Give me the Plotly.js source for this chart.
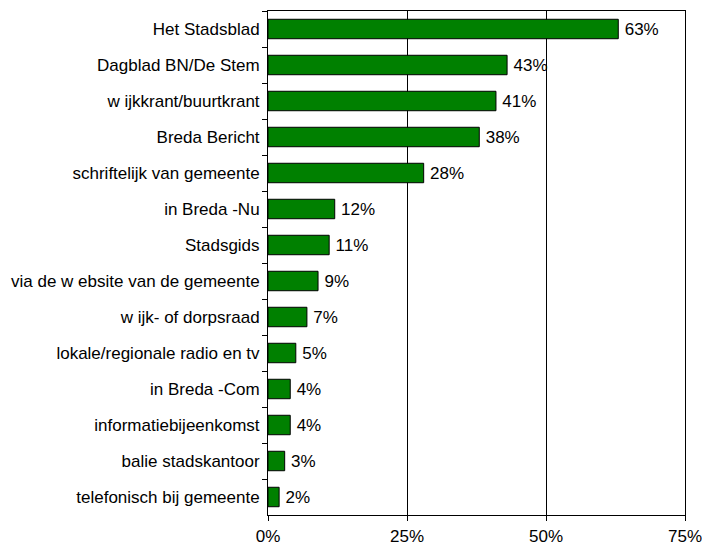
<!DOCTYPE html>
<html>
<head>
<meta charset="utf-8">
<script src="https://cdn.plot.ly/plotly-3.0.1.min.js"></script>
<style>html,body{margin:0;padding:0;background:#fff;}#chart{width:702px;height:546px;}</style>
</head>
<body>
<div id="chart"></div>
<script>
const categories = [
  "Het Stadsblad",
  "Dagblad BN/De Stem",
  "w ijkkrant/buurtkrant",
  "Breda Bericht",
  "schriftelijk van gemeente",
  "in Breda -Nu",
  "Stadsgids",
  "via de w ebsite van de gemeente",
  "w ijk- of dorpsraad",
  "lokale/regionale radio en tv",
  "in Breda -Com",
  "informatiebijeenkomst",
  "balie stadskantoor",
  "telefonisch bij gemeente"
];
const values = [63, 43, 41, 38, 28, 12, 11, 9, 7, 5, 4, 4, 3, 2];
const tickVals = [0, 25, 50, 75];
const tickText = ["0%", "25%", "50%", "75%"];

const trace = {
  type: "bar",
  orientation: "h",
  x: values,
  y: categories,
  text: values.map(v => "\u2009" + v + "%"),
  textposition: "outside",
  cliponaxis: false,
  textfont: {family: "Liberation Sans, Arial, sans-serif", size: 17, color: "#000"},
  marker: {color: "#008000", line: {color: "#000", width: 1}},
  hoverinfo: "none"
};

const layout = {
  width: 702,
  height: 546,
  margin: {l: 268, r: 17, t: 11, b: 31},
  paper_bgcolor: "#fff",
  plot_bgcolor: "#fff",
  showlegend: false,
  bargap: 0.46,
  font: {family: "Liberation Sans, Arial, sans-serif", size: 17, color: "#000"},
  xaxis: {
    range: [0, 75],
    tickvals: tickVals,
    ticktext: tickText,
    showgrid: true,
    gridcolor: "#000",
    gridwidth: 1,
    zeroline: false,
    showline: true,
    linecolor: "#000",
    linewidth: 1,
    mirror: true,
    ticks: "outside",
    ticklen: 5,
    tickcolor: "#000",
    ticklabelstandoff: 1,
    ticklabeloverflow: "allow",
    fixedrange: true
  },
  yaxis: {
    type: "category",
    autorange: "reversed",
    showgrid: false,
    zeroline: false,
    showline: true,
    linecolor: "#000",
    linewidth: 1,
    mirror: true,
    ticks: "outside",
    tickson: "boundaries",
    ticklen: 5,
    tickcolor: "#000",
    ticklabelstandoff: 4,
    fixedrange: true
  }
};

Plotly.newPlot("chart", [trace], layout, {displayModeBar: false, staticPlot: true});
</script>
</body>
</html>
